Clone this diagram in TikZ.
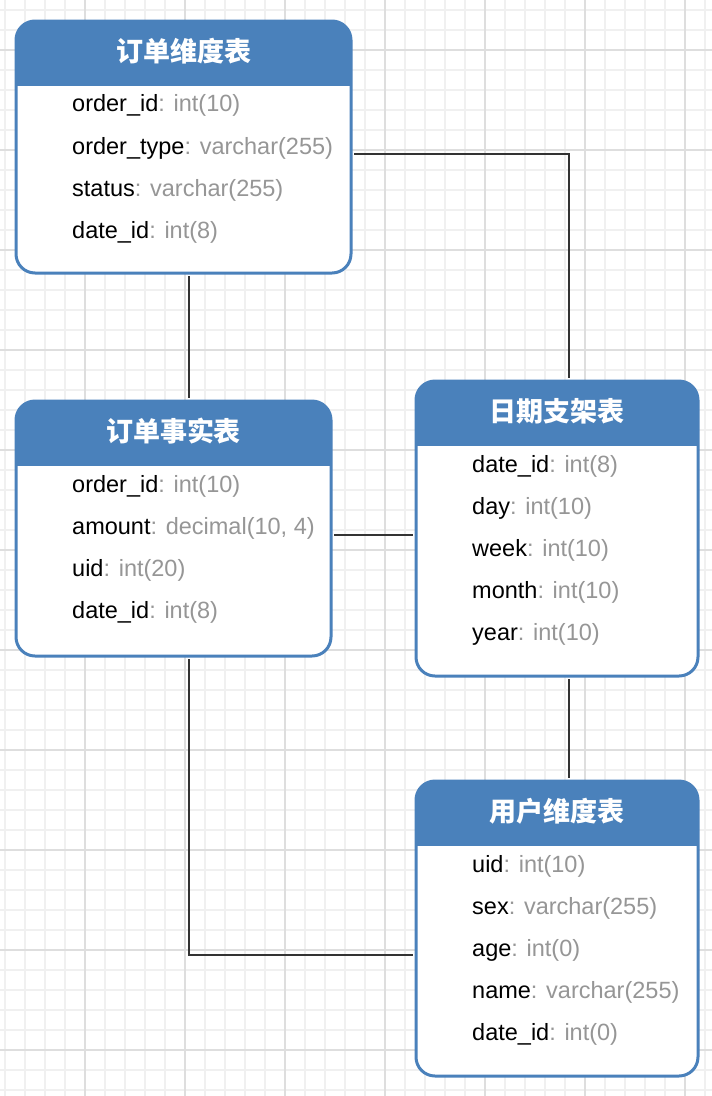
\documentclass[tikz,border=0pt]{standalone}
\usepackage{fontspec}
\setmainfont{Liberation Sans}
\newfontfamily\cjk{Noto Sans CJK SC}
\usetikzlibrary{calc,positioning}

\definecolor{hdrblue}{RGB}{74,129,187}
\definecolor{typegray}{RGB}{150,150,150}
\definecolor{gridminor}{RGB}{240,240,240}
\definecolor{gridmajor}{RGB}{222,222,222}
\definecolor{conngray}{RGB}{51,51,51}
\newcommand{\ftype}[1]{\textcolor{typegray}{: #1}}

\begin{document}
\begin{tikzpicture}[x=1pt, y=-1pt,
    tblbox/.style={draw=hdrblue, line width=3pt, fill=white, rounded corners=19pt,
        inner sep=0pt, anchor=north west,
        path picture={\fill[hdrblue, sharp corners] (path picture bounding box.north west)
            rectangle ([yshift=-64.5pt]path picture bounding box.north east);}},
    tbltitle/.style={text=white, inner sep=0pt, font=\cjk\bfseries\fontsize{27}{32}\selectfont},
    field/.style={anchor=base west, inner sep=0pt, font=\fontsize{23.5}{28}\selectfont},
    conn/.style={draw=conngray, line width=2pt, shorten >=1.5pt, shorten <=1.5pt}]
\useasboundingbox (0,0) rectangle (712,1096);
\fill[white] (0,0) rectangle (712,1096);
\foreach \x in {5,25,...,705} \draw[gridminor, line width=1.5pt] (\x,0) -- (\x,1096);
\foreach \y in {10,30,...,1090} \draw[gridminor, line width=1.5pt] (0,\y) -- (712,\y);
\foreach \x in {85,185,...,685} \draw[gridmajor, line width=1.5pt] (\x,0) -- (\x,1096);
\foreach \y in {50,150,...,1050} \draw[gridmajor, line width=1.5pt] (0,\y) -- (712,\y);

\node [tblbox, minimum width=335pt, minimum height=252pt] (ordDim) at (14.5,19.5) {};
\node [tbltitle] (ordDim-t) at ([yshift=-32pt]ordDim.north) {订单维度表};
\node [field] (ordDim-1) at (72,111) {order\_id\ftype{int(10)}};
\node [field] (ordDim-2) at (72,154) {order\_type\ftype{varchar(255)}};
\node [field] (ordDim-3) at (72,196) {status\ftype{varchar(255)}};
\node [field] (ordDim-4) at (72,238) {date\_id\ftype{int(8)}};

\node [tblbox, minimum width=315pt, minimum height=255pt] (ordFact) at (14.5,399.5) {};
\node [tbltitle] (ordFact-t) at ([yshift=-32pt]ordFact.north) {订单事实表};
\node [field] (ordFact-1) at (72,492) {order\_id\ftype{int(10)}};
\node [field] (ordFact-2) at (72,534) {amount\ftype{decimal(10, 4)}};
\node [field] (ordFact-3) at (72,576) {uid\ftype{int(20)}};
\node [field] (ordFact-4) at (72,618) {date\_id\ftype{int(8)}};

\node [tblbox, minimum width=282pt, minimum height=295pt] (dateDim) at (414.5,379.5) {};
\node [tbltitle] (dateDim-t) at ([yshift=-32pt]dateDim.north) {日期支架表};
\node [field] (dateDim-1) at (472,472) {date\_id\ftype{int(8)}};
\node [field] (dateDim-2) at (472,514) {day\ftype{int(10)}};
\node [field] (dateDim-3) at (472,556) {week\ftype{int(10)}};
\node [field] (dateDim-4) at (472,598) {month\ftype{int(10)}};
\node [field] (dateDim-5) at (472,640) {year\ftype{int(10)}};

\node [tblbox, minimum width=282pt, minimum height=295pt] (userDim) at (414.5,779.5) {};
\node [tbltitle] (userDim-t) at ([yshift=-32pt]userDim.north) {用户维度表};
\node [field] (userDim-1) at (472,872) {uid\ftype{int(10)}};
\node [field] (userDim-2) at (472,914) {sex\ftype{varchar(255)}};
\node [field] (userDim-3) at (472,956) {age\ftype{int(0)}};
\node [field] (userDim-4) at (472,998) {name\ftype{varchar(255)}};
\node [field] (userDim-5) at (472,1040) {date\_id\ftype{int(0)}};

\draw [conn] ([xshift=5pt]ordDim.south) -- ([xshift=15pt]ordFact.north);
\draw [conn] ([yshift=-6.5pt]ordDim.east) -| ([xshift=11.5pt]dateDim.north);
\draw [conn] ([yshift=-6pt]ordFact.east) -- ([yshift=-6pt]dateDim.west);
\draw [conn] ([xshift=11.5pt]dateDim.south) -- ([xshift=11.5pt]userDim.north);
\draw [conn] ([xshift=15pt]ordFact.south) |- ([yshift=-26pt]userDim.west);
\end{tikzpicture}
\end{document}
